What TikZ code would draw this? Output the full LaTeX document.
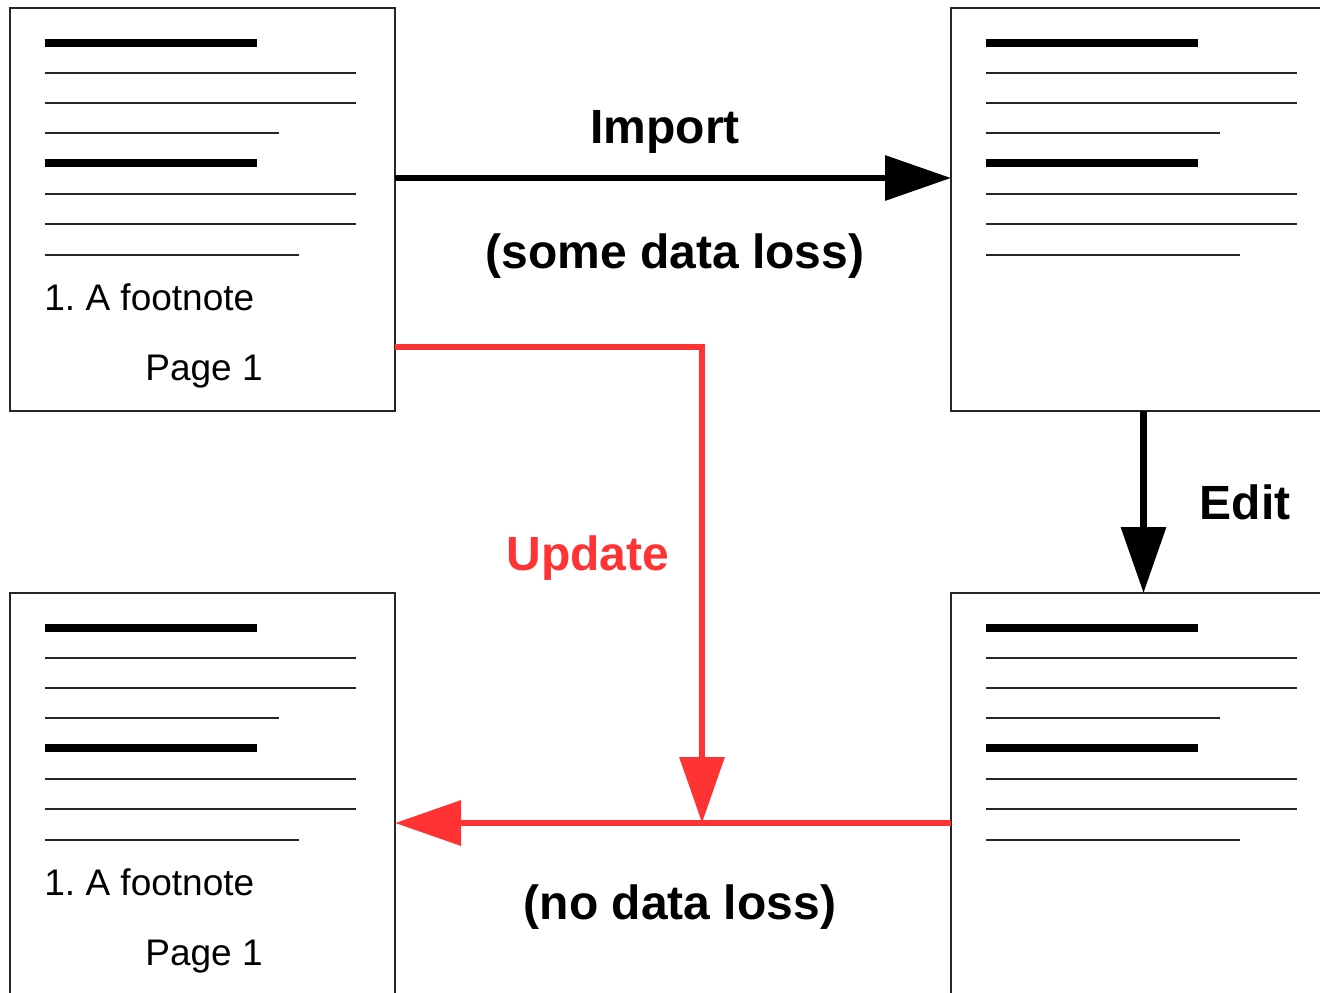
\documentclass[tikz,border=0pt]{standalone}
\usepackage{fontspec}
\setmainfont{Liberation Sans}
\usetikzlibrary{positioning,arrows.meta}
\definecolor{vermelho}{RGB}{255,51,51}

% linhas de texto de uma pagina (nome do no, com nota de rodape: 1 ou 0)
\newcommand{\linhas}[2]{%
  \begin{scope}[shift={(#1.north west)}]
    \foreach \y in {35,155} \draw[grossa] (35,\y) -- (247,\y);
    \foreach \y/\x in {65/346,95/346,125/269,186/346,216/346,247/289}
      \draw[fina] (35,\y) -- (\x,\y);
    \ifnum#2=1
      \node[texto] (#1-nota) at (34,302) {1. A footnote};
      \node[texto] (#1-pag)  at (135,372) {Page 1};
    \fi
  \end{scope}}

\begin{document}
\frenchspacing
\begin{tikzpicture}[
  x=0.5pt, y=-0.5pt,
  node distance=6mm,
  pagina/.style={draw=black!85, line width=0.6pt, outer sep=0pt, inner sep=0pt,
                 minimum width=192.5pt, minimum height=201.5pt},
  grossa/.style={line width=4pt},
  fina/.style={draw=black!85, line width=0.75pt},
  texto/.style={anchor=base west, inner sep=0pt, font=\fontsize{18.5}{22}\selectfont},
  rotulo/.style={anchor=base, inner sep=0pt, font=\fontsize{24}{28}\selectfont\bfseries},
  seta/.style={line width=3.25pt, -{Triangle[length=33pt, width=22pt]}},
  setaverm/.style={seta, draw=vermelho},
]
\useasboundingbox (0,0) rectangle (1320,992);
\clip (0,0) rectangle (1320,992);

% ---- Paginas --------------------------------------------------------------
\node[pagina, anchor=north west] (orig) at (10,8) {};
\node[pagina, right=278pt of orig] (imp) {};
\node[pagina, below=91pt of orig]  (fin) {};
\node[pagina, below=91pt of imp]   (edt) {};

\linhas{orig}{1}
\linhas{imp}{0}
\linhas{fin}{1}
\linhas{edt}{0}

% ---- Importacao e edicao --------------------------------------------------
\draw[seta] ([yshift=15.75pt]orig.east) -- ([yshift=15.75pt]imp.west);
\node[rotulo] (import) at (665,143) {Import};
\node[rotulo] (perda)  at (675,268) {(some data loss)};

\draw[seta] (imp.south) -- (edt.north);
\node[rotulo] (edit) at (1245,519) {Edit};

% ---- Atualizacao ----------------------------------------------------------
\coordinate (junta) at (702,823);
\draw[setaverm] ([yshift=-68.75pt]orig.east) -| (junta);
\draw[setaverm] (edt.west |- junta) -- (fin.east |- junta);
\node[rotulo, text=vermelho] (update) at (588,570) {Update};
\node[rotulo] (semperda) at (680,919) {(no data loss)};

\end{tikzpicture}
\end{document}
